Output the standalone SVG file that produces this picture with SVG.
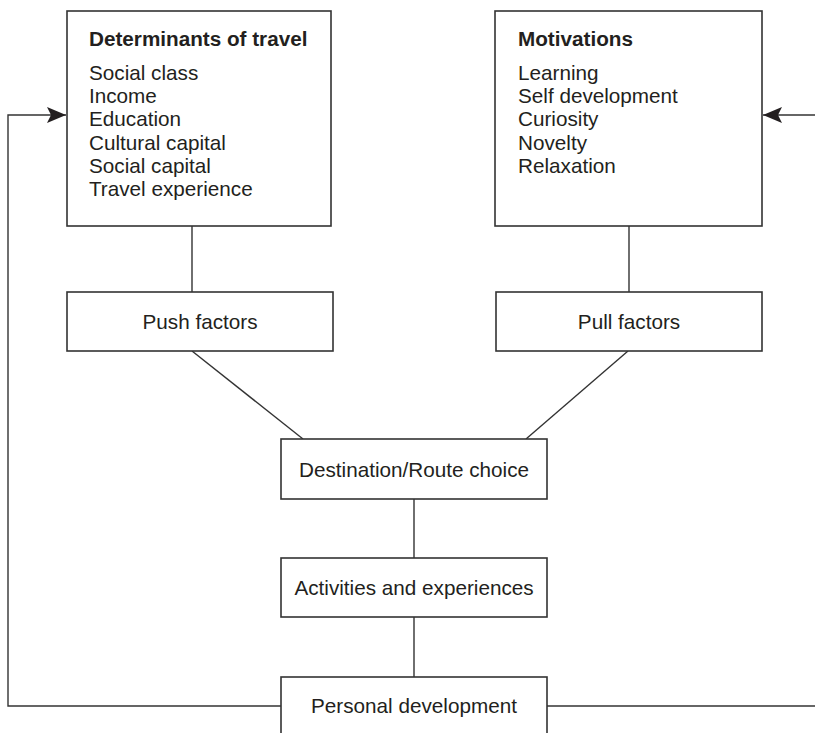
<svg xmlns="http://www.w3.org/2000/svg" width="815" height="733" viewBox="0 0 815 733">
<style>
.box{fill:#fff;stroke:#333;stroke-width:1.6}
.ln{fill:none;stroke:#333;stroke-width:1.4}
text{font-family:"Liberation Sans",Arial,sans-serif;font-size:20.7px;fill:#231f20}
.t{font-weight:bold}
.c{text-anchor:middle}
</style>
<defs>
<marker id="ah" viewBox="0 0 19 16" refX="19" refY="8" markerWidth="19" markerHeight="16" markerUnits="userSpaceOnUse" orient="auto">
<path d="M0,0 L19,8 L0,16 L4,8 Z" fill="#231f20"/>
</marker>
</defs>
<rect width="815" height="733" fill="#fff"/>
<g id="connectors">
<polyline class="ln" points="281,706 8,706 8,115 66,115" marker-end="url(#ah)"/>
<polyline class="ln" points="547,706 815,706"/>
<line class="ln" x1="815" y1="115" x2="763" y2="115" marker-end="url(#ah)"/>
<line class="ln" x1="192" y1="226" x2="192" y2="292"/>
<line class="ln" x1="629" y1="226" x2="629" y2="292"/>
<line class="ln" x1="192" y1="351" x2="303" y2="439"/>
<line class="ln" x1="628" y1="351" x2="526" y2="439"/>
<line class="ln" x1="414" y1="499" x2="414" y2="558"/>
<line class="ln" x1="414" y1="617" x2="414" y2="677"/>
</g>
<g id="determinants">
<rect class="box" x="67" y="11" width="264" height="215"/>
<text class="t" x="89" y="46">Determinants of travel</text>
<text x="89" y="80">Social class</text>
<text x="89" y="103">Income</text>
<text x="89" y="126">Education</text>
<text x="89" y="150">Cultural capital</text>
<text x="89" y="173">Social capital</text>
<text x="89" y="196">Travel experience</text>
</g>
<g id="motivations">
<rect class="box" x="495" y="11" width="267" height="215"/>
<text class="t" x="518" y="46">Motivations</text>
<text x="518" y="80">Learning</text>
<text x="518" y="103">Self development</text>
<text x="518" y="126">Curiosity</text>
<text x="518" y="150">Novelty</text>
<text x="518" y="173">Relaxation</text>
</g>
<g id="push">
<rect class="box" x="67" y="292" width="266" height="59"/>
<text class="c" x="200" y="329">Push factors</text>
</g>
<g id="pull">
<rect class="box" x="496" y="292" width="266" height="59"/>
<text class="c" x="629" y="329">Pull factors</text>
</g>
<g id="destination">
<rect class="box" x="281" y="439" width="266" height="60"/>
<text class="c" x="414" y="477">Destination/Route choice</text>
</g>
<g id="activities">
<rect class="box" x="281" y="558" width="266" height="59"/>
<text class="c" x="414" y="595">Activities and experiences</text>
</g>
<g id="personal">
<rect class="box" x="281" y="677" width="266" height="70"/>
<text class="c" x="414" y="713">Personal development</text>
</g>
</svg>
